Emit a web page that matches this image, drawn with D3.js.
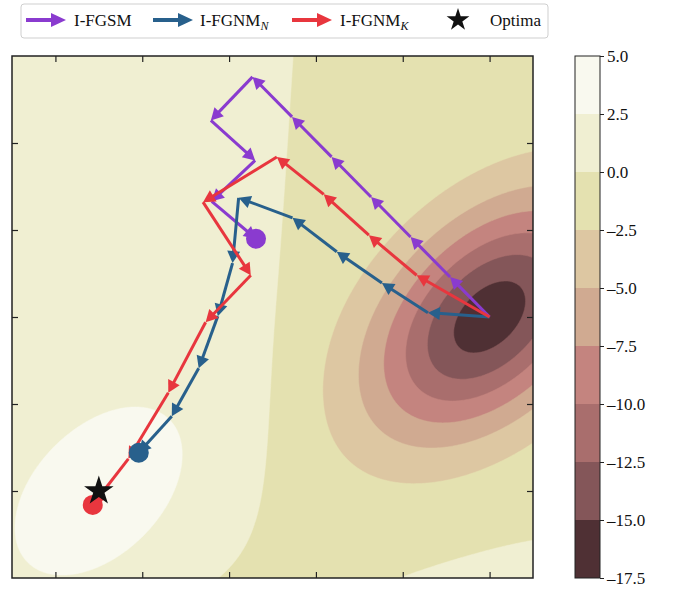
<!DOCTYPE html>
<html>
<head>
<meta charset="utf-8">
<script src="https://cdn.jsdelivr.net/npm/d3@7"></script>
<style>
  body { margin: 0; background: #fff; }
  svg { display: block; font-family: "Liberation Serif", "Times New Roman", serif; }
  svg text { font-family: "Liberation Serif", "Times New Roman", serif !important; }
</style>
</head>
<body>
<svg id="chart" width="677" height="590"></svg>
<script>
// ---- data ----
// attack trajectories, all starting in the loss well
const pathFGSM = [[2.5, 0], [2.045, 0.46], [1.59, 0.92], [1.135, 1.38], [0.68, 1.84], [0.225, 2.30],
                  [-0.23, 2.76], [-0.71, 2.26], [-0.2, 1.8], [-0.7, 1.33], [-0.19, 0.9]];
const pathFGNMN = [[2.5, 0], [1.79, 0.05], [1.26, 0.39], [0.74, 0.75], [0.23, 1.14], [-0.39, 1.37],
                   [-0.46, 0.62], [-0.63, 0.01], [-0.85, -0.59], [-1.16, -1.14], [-1.54, -1.56]];
const pathFGNMK = [[2.5, 0], [1.66, 0.48], [1.11, 0.94], [0.59, 1.41], [0.05, 1.84], [-0.80, 1.32],
                   [-0.25, 0.48], [-0.77, -0.06], [-1.20, -0.87], [-1.66, -1.63], [-2.07, -2.16]];
const optimum = [-2, -2];

// loss surface: gaussian terms plus a soft step between left and right halves
const gaussCenters = [[2.5, 0], [-2, -2], [3.24, -6.71]];
const gaussAmps = [-15.9, 3.5, 17.5];
const gaussAxes = [[1.14, 0.71], [1.146, 0.716], [1.6, 1.6]];
const gaussAngles = [45, 45, 0];
const stepLine = [0.055, 0.065, 0.52, 0.44];    // x0, slope, bottom bend, bend scale
const stepShape = [0.47, -0.07, 0.08];          // height, offset, width

const levels = [-17.5, -15, -12.5, -10, -7.5, -5, -2.5, 0, 2.5, 5];
const xTicks = [-2.5, -1.5, -0.5, 0.5, 1.5, 2.5];
const yTicks = [-2, -1, 0, 1, 2];

const seriesNames = ["I-FGSM", "I-FGNM", "I-FGNM"];
const seriesSubs = ["", "N", "K"];

// ---- styles ----
const bandColors = ["#4f3034", "#845659", "#a96e6d", "#c4847f", "#d0aa91",
                    "#ddc7a2", "#e4e1b0", "#f0efd2", "#f9f9ef"];
const seriesColors = ["#8a3bcf", "#28608c", "#e8363e"];

const svg = d3.select("#chart");
const pLeft = 12, pTop = 56, pRight = 533, pBottom = 578;

const x = d3.scaleLinear().domain([-3, 3]).range([pLeft, pRight]);
const y = d3.scaleLinear().domain([-3, 3]).range([pBottom, pTop]);
const c = d3.scaleLinear().domain([levels[0], levels[levels.length - 1]]).range([pBottom, pTop]);

function loss(px, py) {
    let v = 0;
    gaussCenters.forEach((ctr, i) => {
        const t = gaussAngles[i] * Math.PI / 180;
        const dx = px - ctr[0], dy = py - ctr[1];
        const u = dx * Math.cos(t) + dy * Math.sin(t);
        const w = -dx * Math.sin(t) + dy * Math.cos(t);
        const q = (u / gaussAxes[i][0]) ** 2 + (w / gaussAxes[i][1]) ** 2;
        v += gaussAmps[i] * Math.exp(-q / 2);
    });
    const xb = stepLine[0] + stepLine[1] * py - stepLine[2] * Math.exp(-(py + 3) / stepLine[3]);
    v += stepShape[0] * Math.tanh(-(px - xb) / stepShape[2]) + stepShape[1];
    return v;
}

// grid of the loss
const n = 320, m = 320;
const values = new Array(n * m);
for (let j = 0; j < m; j++) {
    for (let i = 0; i < n; i++) {
        values[j * n + i] = loss(-3 + (i + 0.5) * 6 / n, 3 - (j + 0.5) * 6 / m);
    }
}

const contours = d3.contours().size([n, m]).thresholds(levels.slice(0, -1))(values);
const gridToScreen = d3.geoTransform({
    point: function(gx, gy) {
        this.stream.point(x(-3 + gx * 6 / n), y(3 - gy * 6 / m));
    }
});
const geo = d3.geoPath(gridToScreen);

svg.append("defs").append("clipPath").attr("id", "plotClip")
    .append("rect").attr("x", pLeft).attr("y", pTop)
    .attr("width", pRight - pLeft).attr("height", pBottom - pTop);

const plotG = svg.append("g").attr("clip-path", "url(#plotClip)");
plotG.selectAll("path.band")
    .data(contours)
    .enter().append("path")
    .attr("class", "band")
    .attr("d", geo)
    .attr("fill", d => bandColors[levels.indexOf(d.value)])
    .attr("stroke", d => bandColors[levels.indexOf(d.value)])
    .attr("stroke-width", 0.5);

// trajectories
function drawPath(pts, color) {
    const g = svg.append("g");
    const hl = 12, hw = 6.5;
    for (let i = 1; i < pts.length; i++) {
        const x0 = x(pts[i - 1][0]), y0 = y(pts[i - 1][1]);
        const x1 = x(pts[i][0]), y1 = y(pts[i][1]);
        const a = Math.atan2(y1 - y0, x1 - x0);
        const ca = Math.cos(a), sa = Math.sin(a);
        const bx = x1 - hl * ca, by = y1 - hl * sa;
        g.append("line")
            .attr("x1", x0).attr("y1", y0)
            .attr("x2", bx + 2 * ca).attr("y2", by + 2 * sa)
            .attr("stroke", color).attr("stroke-width", 3);
        g.append("path")
            .attr("d", `M${x1},${y1}L${bx - hw * sa},${by + hw * ca}L${bx + hw * sa},${by - hw * ca}Z`)
            .attr("fill", color);
    }
}
const allPaths = [pathFGSM, pathFGNMN, pathFGNMK];
allPaths.forEach((p, i) => drawPath(p, seriesColors[i]));

svg.append("g").selectAll("circle")
    .data(allPaths)
    .enter().append("circle")
    .attr("cx", d => x(d[d.length - 1][0]))
    .attr("cy", d => y(d[d.length - 1][1]))
    .attr("r", 10)
    .attr("fill", (d, i) => seriesColors[i]);

svg.append("path")
    .attr("d", d3.symbol(d3.symbolStar).size(270)())
    .attr("transform", `translate(${x(optimum[0])},${y(optimum[1])})`)
    .attr("fill", "#111");

// axes, ticks inward on all sides, no labels
const tick = -6;
svg.append("g").attr("transform", `translate(0,${pBottom})`)
    .call(d3.axisBottom(x).tickValues(xTicks).tickSize(tick).tickFormat(""));
svg.append("g").attr("transform", `translate(0,${pTop})`)
    .call(d3.axisTop(x).tickValues(xTicks).tickSize(tick).tickFormat(""));
svg.append("g").attr("transform", `translate(${pLeft},0)`)
    .call(d3.axisLeft(y).tickValues(yTicks).tickSize(tick).tickFormat(""));
svg.append("g").attr("transform", `translate(${pRight},0)`)
    .call(d3.axisRight(y).tickValues(yTicks).tickSize(tick).tickFormat(""));
svg.selectAll(".domain").remove();
svg.selectAll(".tick line").attr("stroke", "#222").attr("stroke-width", 1.2);

svg.append("rect")
    .attr("x", pLeft).attr("y", pTop)
    .attr("width", pRight - pLeft).attr("height", pBottom - pTop)
    .attr("fill", "none").attr("stroke", "#222").attr("stroke-width", 1.5);

// colorbar
const cbX = 575, cbW = 25;
const cb = svg.append("g");
cb.selectAll("rect")
    .data(levels.slice(0, -1))
    .enter().append("rect")
    .attr("x", cbX).attr("width", cbW)
    .attr("y", (d, i) => c(levels[i + 1]))
    .attr("height", (d, i) => c(d) - c(levels[i + 1]))
    .attr("fill", (d, i) => bandColors[i]);
cb.append("rect")
    .attr("x", cbX).attr("y", pTop).attr("width", cbW).attr("height", pBottom - pTop)
    .attr("fill", "none").attr("stroke", "#222").attr("stroke-width", 1);
const fmt = d3.format(".1f");
const cbAxis = svg.append("g").attr("transform", `translate(${cbX + cbW},0)`)
    .call(d3.axisRight(c).tickValues(levels).tickSize(4).tickPadding(3)
        .tickFormat(d => d < 0 ? "\u2013" + fmt(-d) : fmt(d)));
cbAxis.attr("font-family", null);
cbAxis.select(".domain").remove();
cbAxis.selectAll(".tick line").attr("stroke", "#222");
cbAxis.selectAll(".tick text").attr("font-size", 17).attr("fill", "#111");

// legend
const lg = svg.append("g");
lg.append("rect")
    .attr("x", 21).attr("y", 4).attr("width", 527).attr("height", 34)
    .attr("rx", 3).attr("fill", "#fff").attr("stroke", "#cfcfcf").attr("stroke-width", 1);
const legArrowX = [26, 153, 292];
const legTextX = [74, 200, 340];
const legY = 20;
seriesNames.forEach((name, i) => {
    const x0 = legArrowX[i], x1 = x0 + 40;
    lg.append("line")
        .attr("x1", x0).attr("y1", legY).attr("x2", x1 - 14).attr("y2", legY)
        .attr("stroke", seriesColors[i]).attr("stroke-width", 4);
    lg.append("path")
        .attr("d", `M${x1},${legY}L${x1 - 15},${legY - 7}L${x1 - 15},${legY + 7}Z`)
        .attr("fill", seriesColors[i]);
    const t = lg.append("text")
        .attr("x", legTextX[i]).attr("y", legY + 6)
        .attr("font-size", 17).attr("fill", "#111")
        .text(name);
    if (seriesSubs[i]) {
        t.append("tspan").attr("dy", 4).attr("font-size", 12).attr("font-style", "italic")
            .text(seriesSubs[i]);
    }
});
lg.append("path")
    .attr("d", d3.symbol(d3.symbolStar).size(160)())
    .attr("transform", `translate(458,${legY})`)
    .attr("fill", "#111");
lg.append("text")
    .attr("x", 490).attr("y", legY + 6)
    .attr("font-size", 17).attr("fill", "#111")
    .text("Optima");
</script>
</body>
</html>
